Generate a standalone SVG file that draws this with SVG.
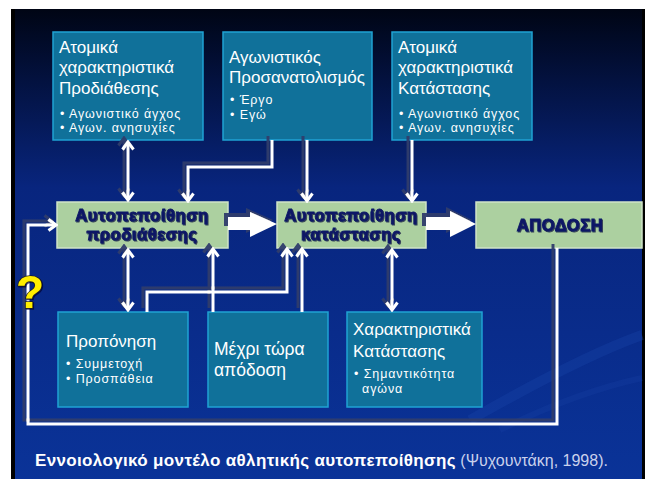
<svg xmlns="http://www.w3.org/2000/svg" width="645" height="479" viewBox="0 0 645 479">
<defs>
<linearGradient id="bg" x1="0" y1="9" x2="0" y2="479" gradientUnits="userSpaceOnUse">
<stop offset="0" stop-color="#000514"/>
<stop offset="0.06" stop-color="#010a26"/>
<stop offset="0.38" stop-color="#08257e"/>
<stop offset="1" stop-color="#0a3398"/>
</linearGradient>
<filter id="sh" x="-20%" y="-20%" width="140%" height="140%">
<feDropShadow dx="-4" dy="-4" stdDeviation="0.6" flood-color="#2e3d6c" flood-opacity="0.95"/>
</filter>
<filter id="tsh" x="-10%" y="-20%" width="120%" height="140%">
<feDropShadow dx="1" dy="1" stdDeviation="0.5" flood-color="#000030" flood-opacity="0.7"/>
</filter>
<marker id="ah" viewBox="-10 -7 12 14" refX="0" refY="0" markerWidth="12" markerHeight="14" markerUnits="userSpaceOnUse" orient="auto-start-reverse">
<path d="M-7.5,-5.5 L0,0 L-7.5,5.5" fill="none" stroke="#ffffff" stroke-width="3" stroke-linejoin="miter"/>
</marker>
<style>
.tb{fill:#10719a;stroke:#1fa2d4;stroke-width:1.5}
.gb{fill:#acd0a0;stroke:#cfe3c8;stroke-width:1.5}
.tt{font-family:"Liberation Sans",Arial,sans-serif;font-size:17px;fill:#ffffff}
.bt{font-family:"Liberation Sans",Arial,sans-serif;font-size:12.5px;fill:#ffffff;letter-spacing:0.9px}
.gt{font-family:"Liberation Sans",Arial,sans-serif;font-size:16.5px;font-weight:bold;fill:#0c1866;stroke:#0c1866;stroke-width:0.9;letter-spacing:0.6px;text-anchor:middle}
.ln{fill:none;stroke:#ffffff;stroke-width:3}
.arr{marker-end:url(#ah)}
.dbl{marker-start:url(#ah);marker-end:url(#ah)}
.blk{fill:#ffffff}
</style>
</defs>
<rect x="0" y="0" width="645" height="479" fill="#ffffff"/>
<rect x="11" y="9" width="634" height="470" fill="#000000"/>
<rect x="15" y="9" width="627" height="470" fill="url(#bg)"/>
<path d="M470,420 C540,380 600,350 642,335" fill="none" stroke="#1a45a8" stroke-width="10" opacity="0.35"/>
<path d="M500,430 C560,400 610,385 642,378" fill="none" stroke="#1a45a8" stroke-width="6" opacity="0.25"/>

<g id="node-atomika-prodiathesis">
<rect class="tb" x="53" y="32" width="150" height="108"/>
<text class="tt" x="59" y="53">Ατομικά</text>
<text class="tt" x="59" y="73">χαρακτηριστικά</text>
<text class="tt" x="59" y="94">Προδιάθεσης</text>
<text class="bt" x="60" y="118">• Αγωνιστικό άγχος</text>
<text class="bt" x="60" y="132">• Αγων. ανησυχίες</text>
</g>
<g id="node-agonistikos">
<rect class="tb" x="223" y="32" width="149" height="108"/>
<text class="tt" x="229" y="63">Αγωνιστικός</text>
<text class="tt" x="229" y="83">Προσανατολισμός</text>
<text class="bt" x="230" y="104">• Έργο</text>
<text class="bt" x="230" y="119">• Εγώ</text>
</g>
<g id="node-atomika-katastasis">
<rect class="tb" x="392" y="32" width="140" height="108"/>
<text class="tt" x="398" y="53">Ατομικά</text>
<text class="tt" x="398" y="73">χαρακτηριστικά</text>
<text class="tt" x="398" y="94">Κατάστασης</text>
<text class="bt" x="399" y="118">• Αγωνιστικό άγχος</text>
<text class="bt" x="399" y="132">• Αγων. ανησυχίες</text>
</g>
<g id="node-aftopep-prodiathesis">
<rect class="gb" x="57" y="202" width="171" height="46"/>
<text class="gt" x="142" y="221" filter="url(#tsh)">Αυτοπεποίθηση</text>
<text class="gt" x="142" y="240" filter="url(#tsh)">προδιάθεσης</text>
</g>
<g id="node-aftopep-katastasis">
<rect class="gb" x="277" y="202" width="149" height="46"/>
<text class="gt" x="351" y="221" filter="url(#tsh)">Αυτοπεποίθηση</text>
<text class="gt" x="351" y="240" filter="url(#tsh)">κατάστασης</text>
</g>
<g id="node-apodosi">
<rect class="gb" x="476" y="202" width="166" height="46"/>
<text class="gt" x="560" y="231" filter="url(#tsh)">ΑΠΟΔΟΣΗ</text>
</g>
<g id="node-proponisi">
<rect class="tb" x="58" y="312" width="130" height="95"/>
<text class="tt" x="66" y="347">Προπόνηση</text>
<text class="bt" x="66" y="368">• Συμμετοχή</text>
<text class="bt" x="66" y="383">• Προσπάθεια</text>
</g>
<g id="node-mexri-tora">
<rect class="tb" x="208" y="312" width="120" height="95"/>
<text class="tt" x="214" y="355" style="font-size:17.5px">Μέχρι τώρα</text>
<text class="tt" x="214" y="376" style="font-size:17.5px">απόδοση</text>
</g>
<g id="node-xaraktiristika-katastasis">
<rect class="tb" x="347" y="312" width="135" height="95"/>
<text class="tt" x="353" y="335">Χαρακτηριστικά</text>
<text class="tt" x="353" y="357">Κατάστασης</text>
<text class="bt" x="354" y="378">• Σημαντικότητα</text>
<text class="bt" x="362" y="393">αγώνα</text>
</g>

<g id="connectors" filter="url(#sh)">
<path class="ln dbl" d="M128,142 V200"/>
<path class="ln arr" d="M272,140 V167 H188 V201"/>
<path class="ln arr" d="M307,140 V201"/>
<path class="ln arr" d="M412,140 V201"/>
<polygon class="blk" points="228,217 250,217 250,212 277,224 250,237 250,230 228,230"/>
<polygon class="blk" points="426,217 450,217 450,211 476,224 450,237 450,230 426,230"/>
<path class="ln dbl" d="M128,250 V310"/>
<path class="ln arr" d="M147,312 V292 H287 V249"/>
<path class="ln arr" d="M213,312 V249"/>
<path class="ln arr" d="M302,312 V249"/>
<path class="ln dbl" d="M392,250 V310"/>
<path class="ln arr" d="M557,248 V424 H28 V225 H56" stroke-width="3.5"/>
</g>

<text x="16" y="308" font-family="Liberation Sans,Arial,sans-serif" font-size="46" font-weight="bold" fill="#ffee00" stroke="#1a1a1a" stroke-width="1.5" paint-order="stroke" filter="url(#tsh)">?</text>

<text x="35" y="466" font-family="Liberation Sans,Arial,sans-serif" font-size="16"><tspan font-weight="bold" fill="#ffffff" font-size="17" letter-spacing="0.35">Εννοιολογικό μοντέλο αθλητικής αυτοπεποίθησης</tspan><tspan fill="#c9d1ec"> (Ψυχουντάκη, 1998).</tspan></text>
</svg>
